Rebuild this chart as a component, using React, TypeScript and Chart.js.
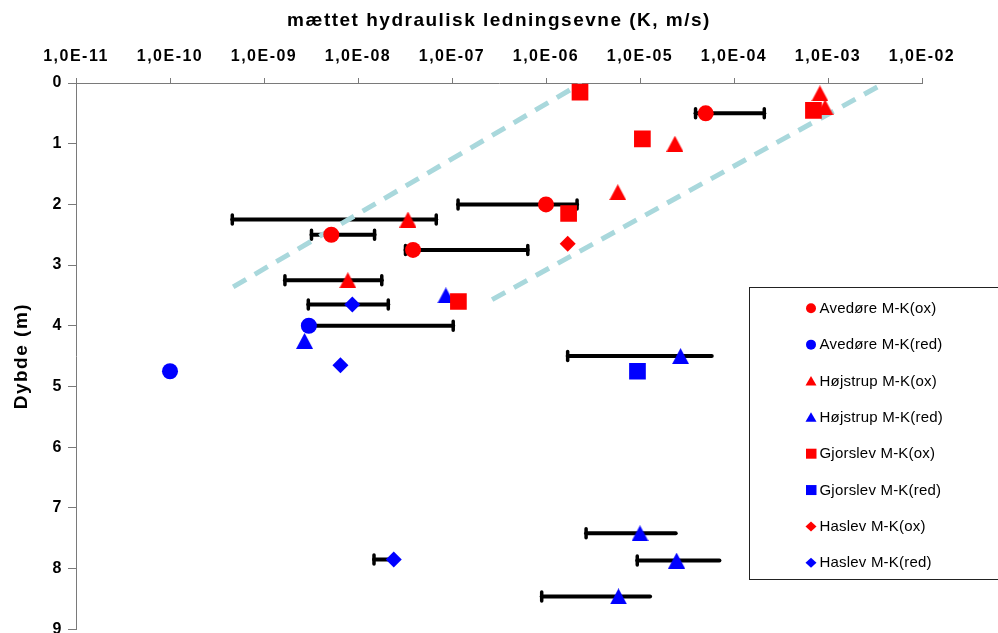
import React, { useEffect, useRef } from 'react';
import { Chart, registerables } from 'chart.js';

Chart.register(...registerables);

// ---------- axis ticks ----------
const xTickValues = [1e-11, 1e-10, 1e-9, 1e-8, 1e-7, 1e-6, 1e-5, 1e-4, 1e-3, 1e-2];
const xTickLabels = ['1,0E-11', '1,0E-10', '1,0E-09', '1,0E-08', '1,0E-07', '1,0E-06', '1,0E-05', '1,0E-04', '1,0E-03', '1,0E-02'];
const yTickValues = [0, 1, 2, 3, 4, 5, 6, 7, 8, 9];
const yTickLabels = ['0', '1', '2', '3', '4', '5', '6', '7', '8', '9'];

const xTitle = 'mættet hydraulisk ledningsevne (K, m/s)';
const yTitle = 'Dybde (m)';

const seriesNames = [
  'Avedøre M-K(ox)',
  'Avedøre M-K(red)',
  'Højstrup M-K(ox)',
  'Højstrup M-K(red)',
  'Gjorslev M-K(ox)',
  'Gjorslev M-K(red)',
  'Haslev M-K(ox)',
  'Haslev M-K(red)',
];

// ---------- series data (K in m/s, depth in m) ----------
const avedoreOxK = [5.0e-5, 1.0e-6, 5.2e-9, 3.85e-8];
const avedoreOxDepth = [0.5, 2.0, 2.5, 2.75];
const avedoreOxKMin = [3.9e-5, 1.16e-7, 3.2e-9, 3.2e-8];
const avedoreOxKMax = [2.1e-4, 2.14e-6, 1.5e-8, 6.4e-7];

const avedoreRedK = [3.0e-9, 1.0e-10];
const avedoreRedDepth = [4.0, 4.75];
const avedoreRedKMin = [2.75e-9, null];
const avedoreRedKMax = [1.03e-7, null];

const hojstrupOxK = [8.2e-4, 9.3e-4, 2.35e-5, 5.8e-6, 3.4e-8, 7.8e-9];
const hojstrupOxDepth = [0.17, 0.4, 1.0, 1.8, 2.25, 3.25];
const hojstrupOxKMin = [null, null, null, null, 4.6e-10, 1.67e-9];
const hojstrupOxKMax = [null, null, null, null, 6.8e-8, 1.79e-8];

const hojstrupRedK = [8.6e-8, 2.7e-9, 2.7e-5, 1.0e-5, 2.45e-5, 5.9e-6];
const hojstrupRedDepth = [3.5, 4.25, 4.5, 7.42, 7.87, 8.46];
const hojstrupRedKMin = [null, null, 1.7e-6, 2.67e-6, 9.35e-6, 9.0e-7];
const hojstrupRedKMax = [null, null, 5.8e-5, 2.4e-5, 7.0e-5, 1.28e-5];

const gjorslevOxK = [2.3e-6, 7.0e-4, 1.06e-5, 1.74e-6, 1.17e-7];
const gjorslevOxDepth = [0.15, 0.45, 0.92, 2.15, 3.6];

const gjorslevRedK = [9.4e-6];
const gjorslevRedDepth = [4.75];

const haslevOxK = [1.7e-6];
const haslevOxDepth = [2.65];

const haslevRedK = [8.7e-9, 6.5e-9, 2.4e-8];
const haslevRedDepth = [3.65, 4.65, 7.85];
const haslevRedKMin = [2.96e-9, null, 1.48e-8];
const haslevRedKMax = [2.1e-8, null, 2.4e-8];

// dashed guide lines
const guideUpperK = [4.7e-10, 2.4e-6];
const guideUpperDepth = [3.36, 0];
const guideLowerK = [2.67e-7, 4.0e-3];
const guideLowerDepth = [3.57, 0];

// ---------- styling ----------
const FONT = "'Liberation Sans', Arial, sans-serif";
const RED = '#ff0000';
const BLUE = '#0000ff';
const GUIDE = '#a9d8dc';

function triangleCanvas(w: number, h: number, color: string) {
  const c = document.createElement('canvas');
  c.width = w;
  c.height = h;
  const g = c.getContext('2d')!;
  g.fillStyle = color;
  g.beginPath();
  g.moveTo(w / 2, 0);
  g.lineTo(w, h);
  g.lineTo(0, h);
  g.closePath();
  g.fill();
  return c;
}

const pts = (k: number[], d: number[]) => k.map((v, i) => ({ x: v, y: d[i] }));

function drawMarker(ctx: CanvasRenderingContext2D, style: string, x: number, y: number, color: string) {
  ctx.fillStyle = color;
  ctx.beginPath();
  if (style === 'circle') {
    ctx.arc(x, y, 5, 0, Math.PI * 2);
  } else if (style === 'triangle') {
    ctx.moveTo(x, y - 5);
    ctx.lineTo(x + 5.5, y + 4.5);
    ctx.lineTo(x - 5.5, y + 4.5);
    ctx.closePath();
  } else if (style === 'rect') {
    ctx.rect(x - 5, y - 5, 10.5, 10);
  } else {
    ctx.moveTo(x - 5.5, y);
    ctx.lineTo(x, y - 5);
    ctx.lineTo(x + 5.5, y);
    ctx.lineTo(x, y + 5);
    ctx.closePath();
  }
  ctx.fill();
}

const legendStyles = ['circle', 'circle', 'triangle', 'triangle', 'rect', 'rect', 'diamond', 'diamond'];
const legendColors = [RED, BLUE, RED, BLUE, RED, BLUE, RED, BLUE];

const errorBarPlugin = {
  id: 'errorBars',
  beforeDatasetsDraw(chart: any) {
    const { ctx, scales } = chart;
    const xs = scales.x;
    const ys = scales.y;
    ctx.save();
    ctx.strokeStyle = '#000';
    chart.data.datasets.forEach((ds: any) => {
      if (!ds.errMin) return;
      ds.data.forEach((p: any, i: number) => {
        const lo = ds.errMin[i];
        const hi = ds.errMax[i];
        if (lo == null || hi == null) return;
        const py = ys.getPixelForValue(p.y);
        const x1 = xs.getPixelForValue(lo);
        const x2 = xs.getPixelForValue(hi);
        ctx.lineWidth = 4;
        ctx.lineCap = 'round';
        ctx.beginPath();
        ctx.moveTo(x1, py);
        ctx.lineTo(x2, py);
        ctx.stroke();
        ctx.lineWidth = 3.5;
        ctx.beginPath();
        ctx.moveTo(x1, py - 4.5);
        ctx.lineTo(x1, py + 4.5);
        if (ds.capEnds !== 'left') {
          ctx.moveTo(x2, py - 4.5);
          ctx.lineTo(x2, py + 4.5);
        }
        ctx.stroke();
      });
    });
    ctx.restore();
  },
};

const spacingPlugin = {
  id: 'spacing',
  beforeDraw(chart: any) {
    chart.ctx.letterSpacing = '1.5px';
  },
};

const legendPlugin = {
  id: 'boxLegend',
  afterDraw(chart: any) {
    const ctx: CanvasRenderingContext2D = chart.ctx;
    ctx.save();
    (ctx as any).letterSpacing = '0.2px';
    ctx.fillStyle = '#fff';
    ctx.fillRect(749.5, 287.5, 260, 292);
    ctx.strokeStyle = '#222';
    ctx.lineWidth = 1;
    ctx.strokeRect(749.5, 287.5, 260, 292);
    ctx.font = `15px ${FONT}`;
    ctx.textBaseline = 'middle';
    ctx.textAlign = 'left';
    seriesNames.forEach((name, i) => {
      const y = 308.3 + i * 36.35;
      drawMarker(ctx, legendStyles[i], 811, y, legendColors[i]);
      ctx.fillStyle = '#000';
      ctx.fillText(name, 819.5, y + 0.5);
    });
    ctx.restore();
  },
};

export default function App() {
  const ref = useRef<HTMLCanvasElement>(null);

  useEffect(() => {
    const triRed = triangleCanvas(17, 16, RED);
    const triBlue = triangleCanvas(17, 16, BLUE);

    const marker = (color: string, style: any, radius: number, order: number) => ({
      backgroundColor: color,
      borderColor: color,
      borderWidth: 0,
      pointStyle: style,
      pointRadius: radius,
      pointHoverRadius: radius,
      showLine: false,
      order,
    });

    const chart = new Chart(ref.current!, {
      type: 'scatter',
      data: {
        datasets: [
          { label: seriesNames[0], data: pts(avedoreOxK, avedoreOxDepth), errMin: avedoreOxKMin, errMax: avedoreOxKMax, ...marker(RED, 'circle', 8, 8) } as any,
          { label: seriesNames[1], data: pts(avedoreRedK, avedoreRedDepth), errMin: avedoreRedKMin, errMax: avedoreRedKMax, ...marker(BLUE, 'circle', 8, 7) } as any,
          { label: seriesNames[2], data: pts(hojstrupOxK, hojstrupOxDepth), errMin: hojstrupOxKMin, errMax: hojstrupOxKMax, ...marker(RED, triRed, 9, 6) } as any,
          { label: seriesNames[3], data: pts(hojstrupRedK, hojstrupRedDepth), errMin: hojstrupRedKMin, errMax: hojstrupRedKMax, capEnds: 'left', ...marker(BLUE, triBlue, 9, 5) } as any,
          { label: seriesNames[4], data: pts(gjorslevOxK, gjorslevOxDepth), ...marker(RED, 'rect', 11.8, 4) } as any,
          { label: seriesNames[5], data: pts(gjorslevRedK, gjorslevRedDepth), ...marker(BLUE, 'rect', 11.8, 3) } as any,
          { label: seriesNames[6], data: pts(haslevOxK, haslevOxDepth), ...marker(RED, 'rectRot', 8, 2) } as any,
          { label: seriesNames[7], data: pts(haslevRedK, haslevRedDepth), errMin: haslevRedKMin, errMax: haslevRedKMax, ...marker(BLUE, 'rectRot', 8, 1) } as any,
          {
            label: 'guideUpper',
            data: pts(guideUpperK, guideUpperDepth),
            showLine: true,
            borderColor: GUIDE,
            borderWidth: 5,
            borderDash: [15, 10],
            pointRadius: 0,
            order: 20,
          } as any,
          {
            label: 'guideLower',
            data: pts(guideLowerK, guideLowerDepth),
            showLine: true,
            borderColor: GUIDE,
            borderWidth: 5,
            borderDash: [15, 10],
            pointRadius: 0,
            order: 20,
          } as any,
        ],
      },
      options: {
        responsive: false,
        animation: false,
        events: [],
        layout: { padding: { left: 0, right: 76, top: 0, bottom: 4 } },
        plugins: {
          legend: { display: false },
          tooltip: { enabled: false },
        },
        scales: {
          x: {
            type: 'logarithmic',
            position: 'top',
            min: 1e-11,
            max: 1e-2,
            afterBuildTicks: (s: any) => {
              s.ticks = xTickValues.map((v) => ({ value: v }));
            },
            afterFit: (s: any) => {
              s.height = 83;
              s.paddingLeft = 0;
              s.paddingRight = 0;
            },
            ticks: {
              callback: (_v: any, i: number) => xTickLabels[i],
              font: { family: FONT, size: 16, weight: 'bold' },
              color: '#000',
              padding: 12,
              maxRotation: 0,
              autoSkip: false,
            },
            grid: { display: true, drawOnChartArea: false, drawTicks: true, tickLength: 5, color: '#7a7a7a' },
            border: { display: true, color: '#7a7a7a', width: 1 },
            title: {
              display: true,
              text: xTitle,
              font: { family: FONT, size: 19, weight: 'bold' },
              color: '#000',
              padding: { top: 9, bottom: 0 },
            },
          },
          y: {
            type: 'linear',
            reverse: true,
            min: 0,
            max: 9,
            afterBuildTicks: (s: any) => {
              s.ticks = yTickValues.map((v) => ({ value: v }));
            },
            afterFit: (s: any) => {
              s.width = 76;
              s.paddingTop = 0;
              s.paddingBottom = 0;
            },
            ticks: {
              callback: (_v: any, i: number) => yTickLabels[i],
              font: { family: FONT, size: 16, weight: 'bold' },
              color: '#000',
              padding: 5,
            },
            grid: { display: true, drawOnChartArea: false, drawTicks: true, tickLength: 8, color: '#7a7a7a' },
            border: { display: true, color: '#7a7a7a', width: 1 },
            title: {
              display: true,
              text: yTitle,
              font: { family: FONT, size: 19, weight: 'bold' },
              color: '#000',
              padding: { top: 10, bottom: 0 },
            },
          },
        },
      } as any,
      plugins: [spacingPlugin, errorBarPlugin, legendPlugin],
    });

    return () => chart.destroy();
  }, []);

  return (
    <div style={{ position: 'absolute', left: 0, top: 0, width: 998, height: 633, overflow: 'hidden', background: '#fff' }}>
      <canvas ref={ref} width={998} height={641} style={{ display: 'block' }} />
    </div>
  );
}
